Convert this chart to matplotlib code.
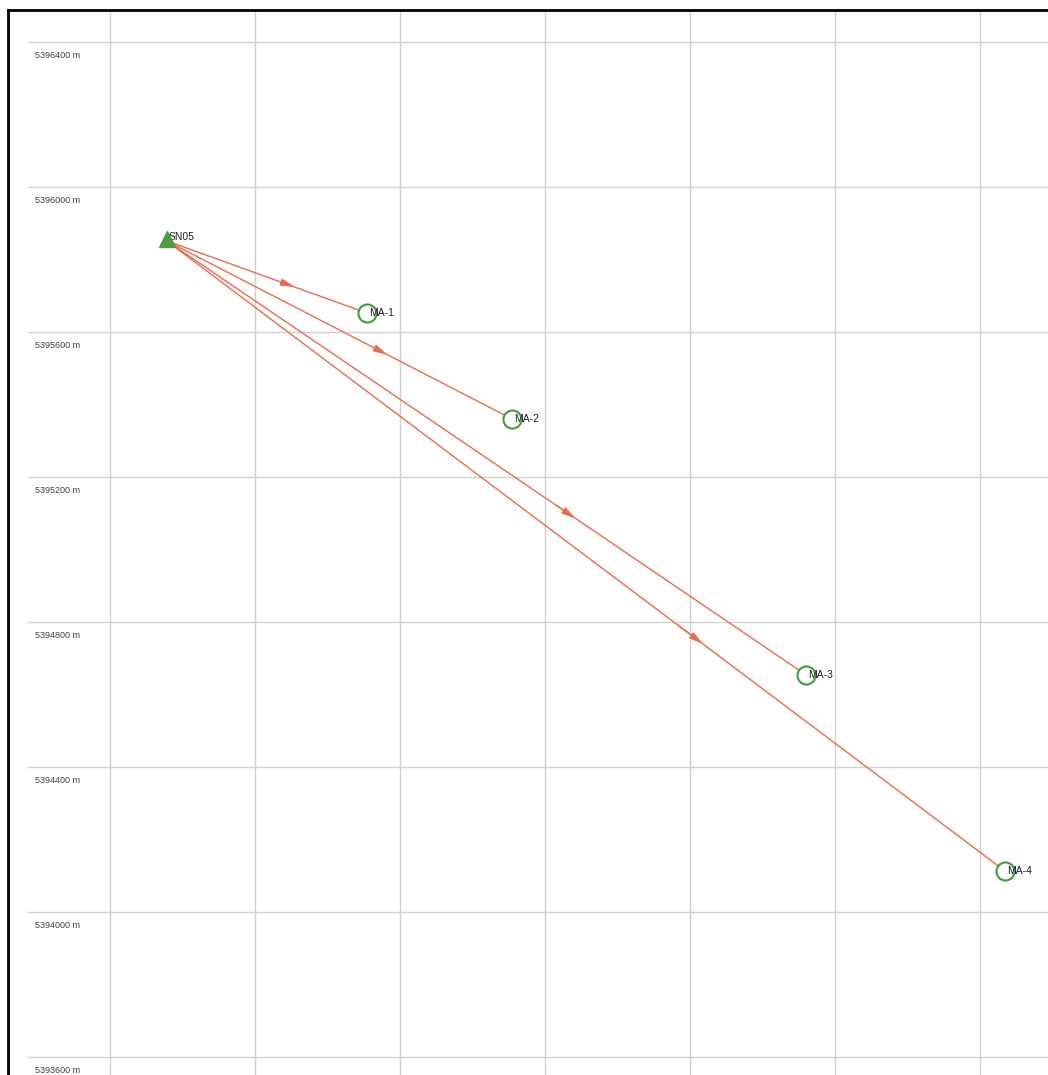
import matplotlib.pyplot as plt
from matplotlib.transforms import blended_transform_factory

# station and target points (easting offset from local base, northing in m)
E_BASE = 471600
station_name = 'SN05'
station_e = 157
station_n = 5395851

target_names = ['MA-1', 'MA-2', 'MA-3', 'MA-4']
target_e = [709, 1109, 1920, 2469]
target_n = [5395652, 5395360, 5394654, 5394113]

north_ticks = [5396400, 5396000, 5395600, 5395200, 5394800, 5394400, 5394000, 5393600]
east_grid = [0, 400, 800, 1200, 1600, 2000, 2400]

line_color = '#ec6a4c'
green = '#4f9a45'

fig = plt.figure(figsize=(10.48, 10.75), dpi=100)
ax = fig.add_axes([8 / 1048, 0, 1040 / 1048, 1 - 10 / 1075])

ax.set_xlim(E_BASE - 281, E_BASE + 2588)
ax.set_ylim(5393550, 5396488)

for e in east_grid:
    ax.axvline(E_BASE + e, color='#cfcfcf', lw=1, zorder=0)
for n in north_ticks:
    ax.axhline(n, xmin=20 / 1040, color='#d2d2d2', lw=1, zorder=0)

trans = blended_transform_factory(ax.transAxes, ax.transData)
for n in north_ticks:
    ax.text(27 / 1040, n - 38, '%d m' % n, transform=trans, fontsize=6.5,
            color='#3a3f4a', va='center', ha='left', family='Liberation Sans')

sx = E_BASE + station_e
for name, e, n in zip(target_names, target_e, target_n):
    tx = E_BASE + e
    ax.plot([sx, tx], [station_n, n], color=line_color, lw=1, zorder=2)
    f = 0.64
    mx = sx + f * (tx - sx)
    my = station_n + f * (n - station_n)
    bx = sx + (f - 0.03) * (tx - sx)
    by = station_n + (f - 0.03) * (n - station_n)
    ax.annotate('', xy=(mx, my), xytext=(bx, by),
                arrowprops=dict(arrowstyle='-|>,head_length=0.6,head_width=0.15',
                                color=line_color, lw=1,
                                mutation_scale=14, shrinkA=0, shrinkB=0))
    ax.plot(tx, n, marker='o', ms=13, mfc='white', mec='#3f9c3b', mew=1.5, zorder=3)
    ax.text(tx + 5, n, name, fontsize=7.5, color='#1d1d2a', va='center', ha='left',
            zorder=4, family='Liberation Sans')

ax.text(sx + 5, station_n + 10, station_name, fontsize=7.5, color='#1d1d2a',
        va='center', ha='left', zorder=3, family='Liberation Sans')
ax.plot(sx, station_n + 5, marker='^', ms=12, color=green, zorder=5)

ax.set_xticks([])
ax.set_yticks([])
for side in ['right', 'bottom']:
    ax.spines[side].set_visible(False)
for side in ['left', 'top']:
    ax.spines[side].set_linewidth(2)
    ax.spines[side].set_color('black')

fig.savefig('out.png', dpi=100)
